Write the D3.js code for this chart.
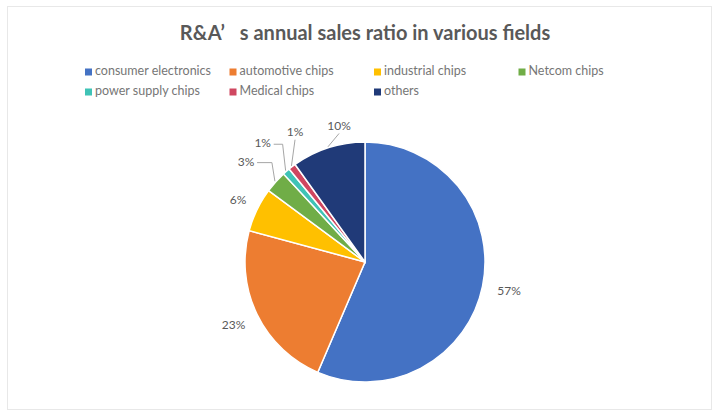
<!DOCTYPE html>
<html>
<head>
<meta charset="utf-8">
<script src="https://cdn.jsdelivr.net/npm/d3@7"></script>
<style>
  body { margin: 0; background: #fff; }
  text { font-family: Lato, "Open Sans", sans-serif; }
</style>
</head>
<body>
<script>
const categories = ["consumer electronics", "automotive chips", "industrial chips", "Netcom chips",
                    "power supply chips", "Medical chips", "others"];
const values = [57, 23, 6, 3, 1, 1, 10];
const colors = ["#4472C4", "#ED7D31", "#FFC000", "#70AD47", "#3FC3B6", "#CF4760", "#203A78"];
const title = "R&A\u2019\u2002 s annual sales ratio in various fields";

const width = 719;
const height = 413;
const cx = 365;
const cy = 262;
const radius = 120;

const svg = d3.select("body")
    .append("svg")
    .attr("width", width)
    .attr("height", height);

// faint chart border
svg.append("rect")
    .attr("x", 7.5)
    .attr("y", 6.5)
    .attr("width", 704)
    .attr("height", 403)
    .attr("fill", "#fff")
    .attr("stroke", "#e8e8e8");

svg.append("text")
    .attr("x", 365)
    .attr("y", 40)
    .attr("text-anchor", "middle")
    .attr("font-size", 20)
    .attr("font-weight", "bold")
    .attr("fill", "#595959")
    .text(title);

// legend, 4 columns
const legend = svg.append("g")
    .selectAll("g")
    .data(categories)
    .enter()
    .append("g")
    .attr("transform", (d, i) => "translate(" + (85 + (i % 4) * 144.5) + "," + (72 + Math.floor(i / 4) * 20) + ")");

legend.append("rect")
    .attr("x", 0)
    .attr("y", -3.5)
    .attr("width", 7)
    .attr("height", 7)
    .attr("fill", (d, i) => colors[i]);

legend.append("text")
    .attr("x", 10)
    .attr("y", 0)
    .attr("dominant-baseline", "middle")
    .attr("font-size", 12.5)
    .attr("fill", "#767676")
    .text(d => d);

const pie = d3.pie().sort(null).value(d => d);
const arcs = pie(values);

const arc = d3.arc().innerRadius(0).outerRadius(radius);

const g = svg.append("g")
    .attr("transform", "translate(" + cx + "," + cy + ")");

g.selectAll("path")
    .data(arcs)
    .enter()
    .append("path")
    .attr("d", arc)
    .attr("fill", (d, i) => colors[i])
    .attr("stroke", "#fff")
    .attr("stroke-width", 1.5);

// label placement: outside the pie, crowded ones nudged
const labelR = [147, 146, 141, 155, 156, 147, 138];
const labelNudge = [0, 0, 0, -2, 0, 9, 7]; // degrees
const withLeader = [false, false, false, true, true, true, true];

const labels = arcs.map((d, i) => {
    const mid = (d.startAngle + d.endAngle) / 2;
    const a = mid + labelNudge[i] * Math.PI / 180;
    return {
        text: values[i] + "%",
        x: labelR[i] * Math.sin(a),
        y: -labelR[i] * Math.cos(a),
        ax: (radius + 1) * Math.sin(mid),
        ay: -(radius + 1) * Math.cos(mid),
        leader: withLeader[i]
    };
});

g.selectAll("polyline")
    .data(labels.filter(d => d.leader))
    .enter()
    .append("polyline")
    .attr("points", d => {
        const half = 9;
        if (d.ax > d.x + half + 5) {
            return [[d.x + half + 2, d.y], [d.ax - 3, d.y], [d.ax, d.ay]].join(" ");
        }
        return [[d.x, d.y + 7], [d.ax, d.ay]].join(" ");
    })
    .attr("fill", "none")
    .attr("stroke", "#a6a6a6")
    .attr("stroke-width", 1);

g.selectAll(".lbl")
    .data(labels)
    .enter()
    .append("text")
    .attr("class", "lbl")
    .attr("x", d => d.x)
    .attr("y", d => d.y)
    .attr("text-anchor", "middle")
    .attr("dominant-baseline", "middle")
    .attr("font-size", 12)
    .attr("fill", "#595959")
    .text(d => d.text);
</script>
</body>
</html>
